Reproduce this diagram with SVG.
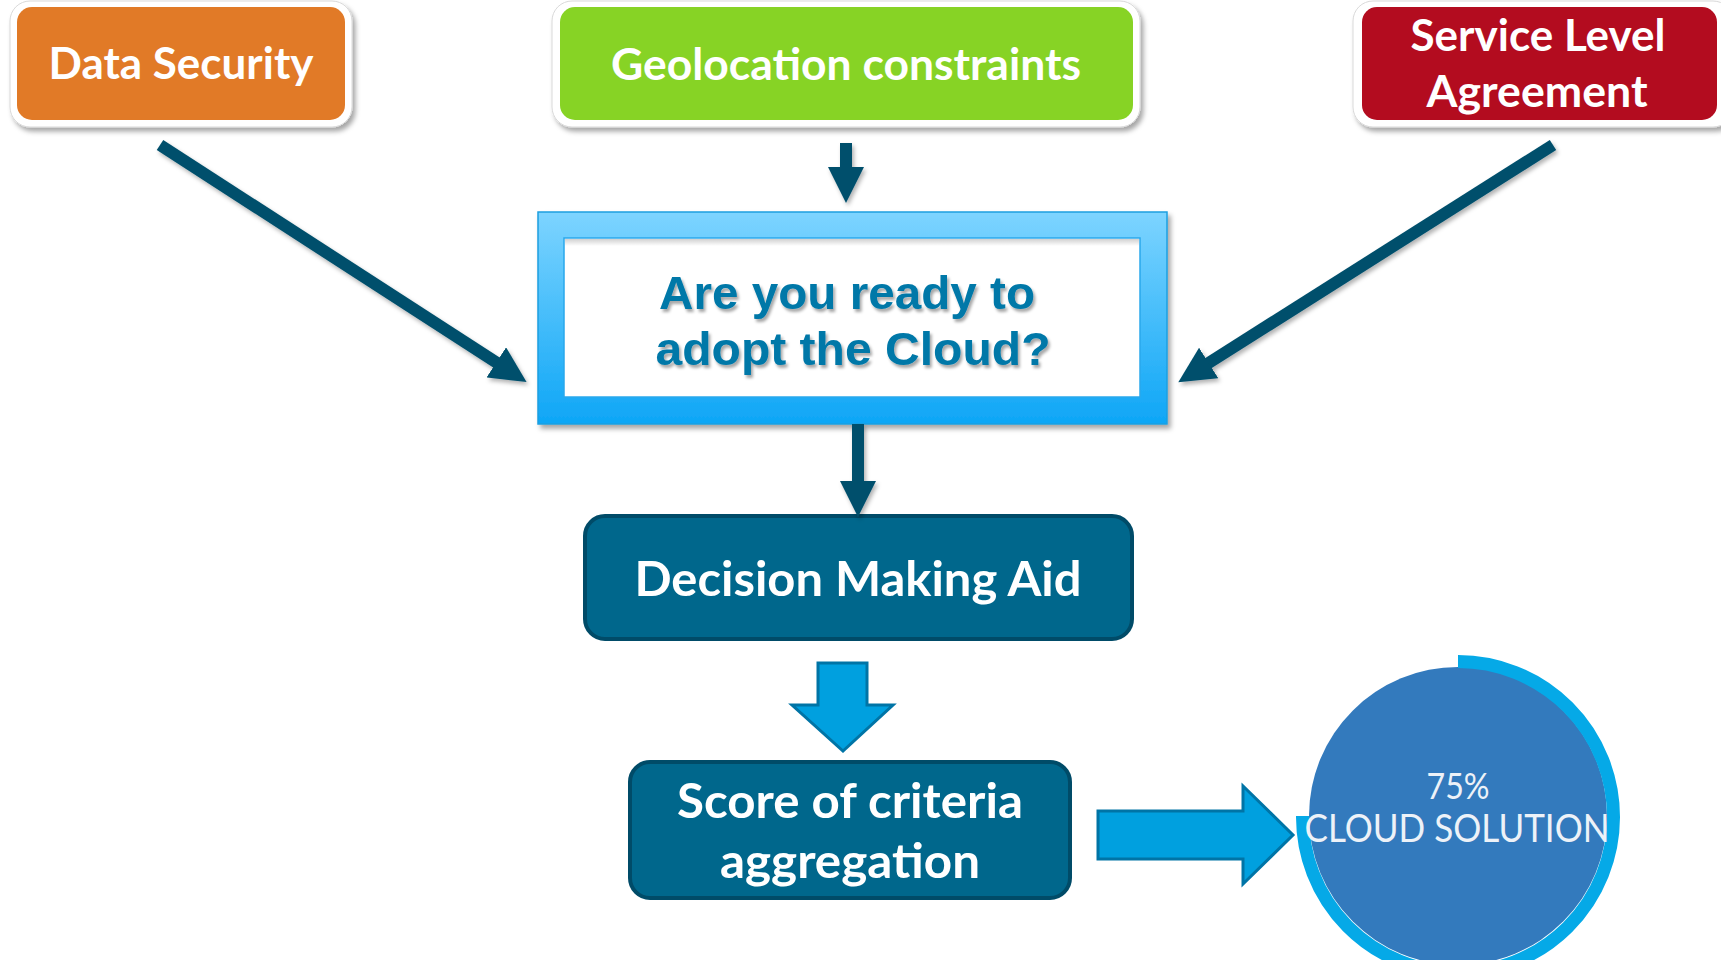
<svg xmlns="http://www.w3.org/2000/svg" width="1721" height="960" viewBox="0 0 1721 960">
  <style>
    .frame { fill: #ffffff; stroke: #d9d9d9; stroke-width: 1; }
    .label { font-family: Lato, "Open Sans", "DejaVu Sans", sans-serif; font-weight: 700; fill: #ffffff; text-anchor: middle; }
    .top { font-size: 43px; }
    .mid { font-size: 48px; }
    .q { font-family: "Liberation Sans", Arial, sans-serif; font-weight: 700; font-size: 47px; fill: #0078A8; text-anchor: middle; }
    .teal { fill: #00678C; stroke: #004B68; stroke-width: 4; }
    .shaft { stroke: #02506C; stroke-width: 12; fill: none; }
    .block { fill: #00A0DF; stroke: #0074A6; stroke-width: 3; }
    .gauge { font-family: Lato, "Open Sans", sans-serif; font-weight: 400; fill: #EDF2F8; text-anchor: middle; }
  </style>
  <defs>
    <filter id="shadow" x="-10%" y="-10%" width="130%" height="140%">
      <feDropShadow dx="3" dy="4" stdDeviation="2.5" flood-color="#000" flood-opacity="0.35"/>
    </filter>
    <filter id="softShadow" x="-10%" y="-10%" width="130%" height="140%">
      <feDropShadow dx="2" dy="3" stdDeviation="2" flood-color="#000" flood-opacity="0.3"/>
    </filter>
    <filter id="textShadow" x="-5%" y="-20%" width="115%" height="150%">
      <feDropShadow dx="2" dy="3" stdDeviation="1.5" flood-color="#000" flood-opacity="0.35"/>
    </filter>
    <linearGradient id="skyGrad" x1="0" y1="0" x2="0" y2="1">
      <stop offset="0" stop-color="#7DD4FF"/>
      <stop offset="1" stop-color="#0EA6F6"/>
    </linearGradient>
    <linearGradient id="innerShade" x1="0" y1="0" x2="0" y2="1">
      <stop offset="0" stop-color="#000" stop-opacity="0.18"/>
      <stop offset="1" stop-color="#000" stop-opacity="0"/>
    </linearGradient>
    <marker id="head" viewBox="0 -18 36 36" refX="2" refY="0" markerWidth="36" markerHeight="36" markerUnits="userSpaceOnUse" orient="auto">
      <path d="M0,-18 L36,0 L0,18 Z" fill="#02506C"/>
    </marker>
  </defs>

  <!-- criteria boxes -->
  <g id="data-security">
    <rect class="frame" x="10" y="1" width="342" height="126" rx="20" filter="url(#shadow)"/>
    <rect x="17" y="7" width="328" height="113" rx="15" fill="#E17A27"/>
    <text class="label top" x="181" y="79" textLength="265" lengthAdjust="spacingAndGlyphs">Data Security</text>
  </g>

  <g id="geolocation">
    <rect class="frame" x="552" y="1" width="588" height="126" rx="20" filter="url(#shadow)"/>
    <rect x="560" y="7" width="573" height="113" rx="15" fill="#87D325"/>
    <text class="label top" x="846" y="80" textLength="470" lengthAdjust="spacingAndGlyphs">Geolocation constraints</text>
  </g>

  <g id="sla">
    <rect class="frame" x="1353" y="1" width="380" height="126" rx="20" filter="url(#shadow)"/>
    <rect x="1362" y="7" width="355" height="113" rx="15" fill="#B30C1F"/>
    <text class="label top" x="1538" y="51" textLength="255" lengthAdjust="spacingAndGlyphs">Service Level</text>
    <text class="label top" x="1537" y="107" textLength="221" lengthAdjust="spacingAndGlyphs">Agreement</text>
  </g>

  <!-- central question -->
  <g id="question">
    <rect x="538" y="212" width="629" height="212" fill="url(#skyGrad)" stroke="#1C9FE0" stroke-width="1.5" filter="url(#shadow)"/>
    <rect x="564" y="238" width="576" height="159" fill="#ffffff" stroke="#2AA8EC" stroke-width="1.5"/>
    <rect x="565" y="239" width="574" height="7" fill="url(#innerShade)"/>
    <g filter="url(#textShadow)">
      <text class="q" x="847" y="309" textLength="376" lengthAdjust="spacingAndGlyphs">Are you ready to</text>
      <text class="q" x="853" y="365" textLength="395" lengthAdjust="spacingAndGlyphs">adopt the Cloud?</text>
    </g>
  </g>

  <g id="decision">
    <rect class="teal" x="585" y="516" width="547" height="123" rx="20"/>
    <text class="label mid" x="858" y="596" textLength="447" lengthAdjust="spacingAndGlyphs">Decision Making Aid</text>
  </g>

  <g id="score">
    <rect class="teal" x="630" y="762" width="440" height="136" rx="20"/>
    <text class="label mid" x="850" y="818" textLength="346" lengthAdjust="spacingAndGlyphs">Score of criteria</text>
    <text class="label mid" x="850" y="878" textLength="260" lengthAdjust="spacingAndGlyphs">aggregation</text>
  </g>

  <!-- result gauge -->
  <g id="gauge">
    <circle cx="1458" cy="816" r="149" fill="#337ABD"/>
    <path d="M1458,661.5 A155.5,155.5 0 1 1 1302.5,816" fill="none" stroke="#05A9E7" stroke-width="13"/>
    <text class="gauge" x="1458" y="799" font-size="37" textLength="63" lengthAdjust="spacingAndGlyphs">75%</text>
    <text class="gauge" x="1457" y="842" font-size="39" textLength="305" lengthAdjust="spacingAndGlyphs">CLOUD SOLUTION</text>
  </g>

  <!-- connectors -->
  <g id="connectors">
    <g filter="url(#softShadow)">
      <line class="shaft" x1="160" y1="145" x2="498" y2="363.5" marker-end="url(#head)"/>
      <line class="shaft" x1="1553" y1="145" x2="1207" y2="364" marker-end="url(#head)"/>
      <line class="shaft" x1="846" y1="143" x2="846" y2="169" marker-end="url(#head)"/>
      <line class="shaft" x1="858" y1="424" x2="858" y2="483" marker-end="url(#head)"/>
    </g>
    <polygon class="block" points="818,663 867,663 867,705 893,705 843,751 792,705 818,705"/>
    <polygon class="block" points="1098,811 1243,811 1243,786 1293,835 1243,884 1243,859 1098,859"/>
  </g>
</svg>
